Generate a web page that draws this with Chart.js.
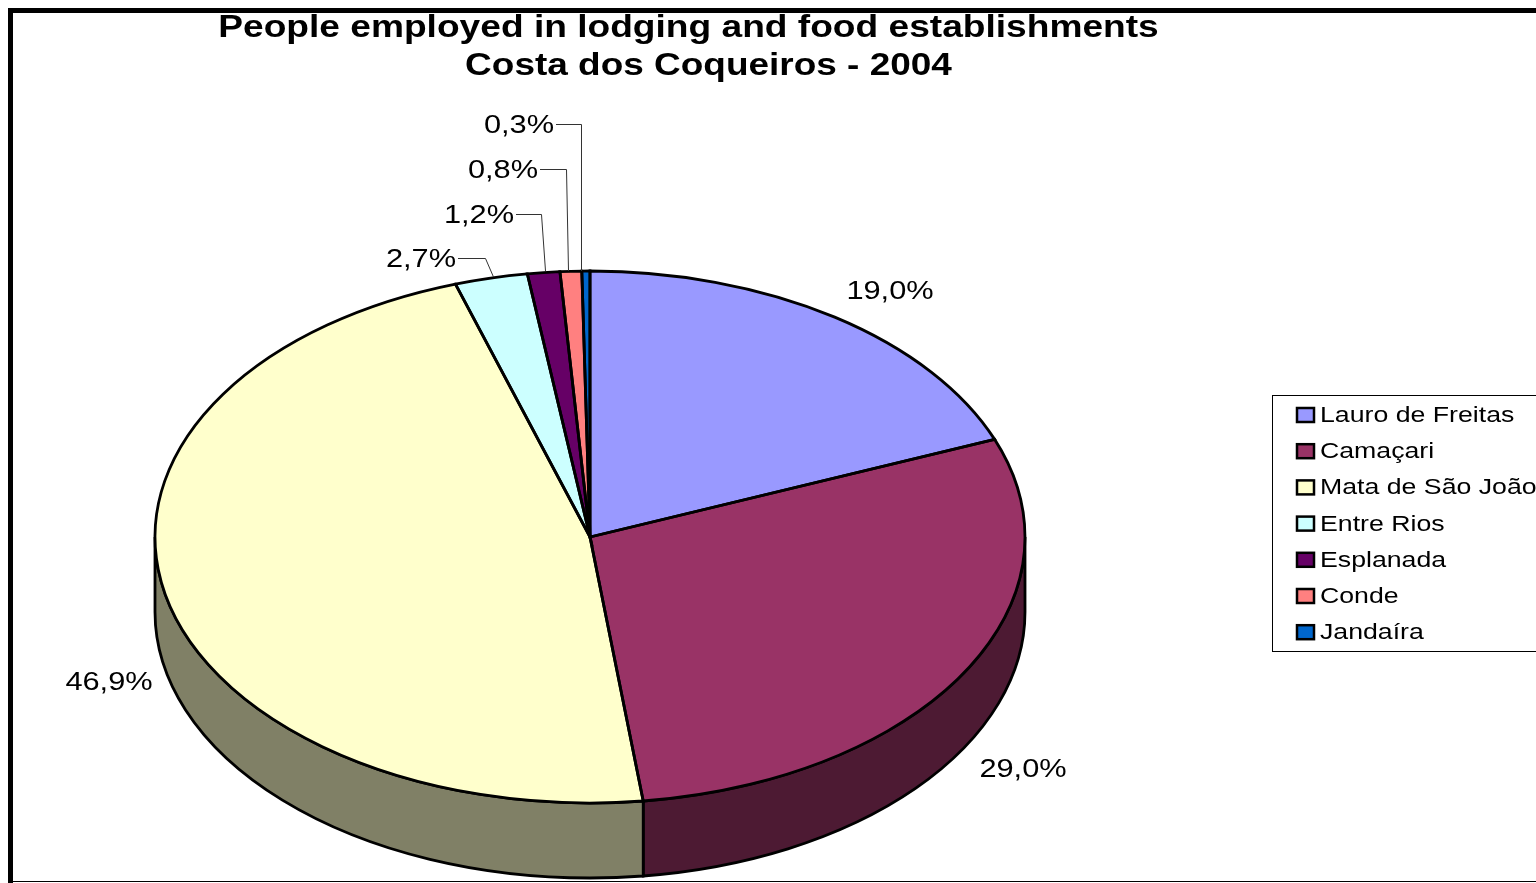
<!DOCTYPE html>
<html>
<head>
<meta charset="utf-8">
<title>People employed in lodging and food establishments</title>
<script src="https://cdn.jsdelivr.net/npm/chart.js@4"></script>
<style>
    html, body { margin: 0; padding: 0; background: #fff; overflow: hidden; }
    canvas { display: block; }
</style>
</head>
<body>
<canvas id="pie" width="1536" height="883"></canvas>
<script>
// Data
const titleLines = ['People employed in lodging and food establishments', 'Costa dos Coqueiros - 2004'];
const cities = ['Lauro de Freitas', 'Camaçari', 'Mata de São João', 'Entre Rios', 'Esplanada', 'Conde', 'Jandaíra'];
const shares = [19.0, 29.0, 46.9, 2.7, 1.2, 0.8, 0.3];
const sliceColors = ['#9999FF', '#993366', '#FFFFCC', '#CCFFFF', '#660066', '#FF8080', '#0066CC'];
const wallColors = ['#4D4D80', '#4D1A33', '#808066', '#668080', '#330033', '#804040', '#003366'];

// Layout of the flattened pie
const pieCenter = { x: 590, y: 537 };
const pieRy = 266;
const pieDepth = 75;
const fontName = '"Liberation Sans", Arial, sans-serif';

// Where the percent labels sit; lead = elbow x, end x, end y of the leader line
const labelSpots = [
    { x: 890, y: 292 },
    { x: 1023, y: 770 },
    { x: 109, y: 683 },
    { x: 421, y: 260, lead: [485, 493, 277] },
    { x: 479, y: 216, lead: [541, 545, 271] },
    { x: 503, y: 171, lead: [566, 568, 271] },
    { x: 519, y: 126, lead: [581, 581, 271] }
];

// Text in the picture is wider than the font, so stretch the scale on x
function wideText(ctx, text, x, y, font, stretch, align) {
    ctx.save();
    ctx.font = font;
    ctx.fillStyle = '#000';
    ctx.textBaseline = 'middle';
    ctx.textAlign = align || 'center';
    ctx.translate(x, y);
    ctx.scale(stretch, 1);
    ctx.fillText(text, 0, 0);
    ctx.restore();
}

// Walls of the disc, only the part of each slice facing the viewer
function drawWalls(ctx, arcs, rx) {
    arcs.forEach((arc, i) => {
        let a = Math.max(arc.startAngle, 0);
        let b = Math.min(arc.endAngle, Math.PI);
        if (b <= a) return;
        ctx.beginPath();
        ctx.ellipse(pieCenter.x, pieCenter.y, rx, pieRy, 0, a, b);
        ctx.ellipse(pieCenter.x, pieCenter.y + pieDepth, rx, pieRy, 0, b, a, true);
        ctx.closePath();
        ctx.fillStyle = wallColors[i];
        ctx.fill();
        ctx.lineWidth = 2.8;
        ctx.strokeStyle = '#000';
        ctx.stroke();
    });
}

// Outline again without the y scale, so the line keeps one thickness
function drawOutlines(ctx, arcs, rx) {
    ctx.lineWidth = 2.8;
    ctx.strokeStyle = '#000';
    arcs.forEach(arc => {
        ctx.beginPath();
        ctx.moveTo(pieCenter.x, pieCenter.y);
        ctx.ellipse(pieCenter.x, pieCenter.y, rx, pieRy, 0, arc.startAngle, arc.endAngle);
        ctx.closePath();
        ctx.stroke();
    });
}

function drawLabels(ctx) {
    labelSpots.forEach((spot, i) => {
        const text = shares[i].toFixed(1).replace('.', ',') + '%';
        wideText(ctx, text, spot.x, spot.y, '25px ' + fontName, 1.23);
        if (spot.lead) {
            const [elbow, endX, endY] = spot.lead;
            ctx.beginPath();
            ctx.moveTo(spot.x + 37, spot.y - 1.5);
            ctx.lineTo(elbow + 0.5, spot.y - 1.5);
            ctx.lineTo(endX + 0.5, endY);
            ctx.lineWidth = 1;
            ctx.strokeStyle = '#333';
            ctx.stroke();
        }
    });
}

function drawLegend(ctx) {
    ctx.lineWidth = 1;
    ctx.strokeStyle = '#000';
    ctx.strokeRect(1272.5, 395.5, 300, 256);
    cities.forEach((city, i) => {
        const y = 415 + i * 36.2;
        ctx.fillStyle = sliceColors[i];
        ctx.fillRect(1297, y - 7, 17, 14);
        ctx.lineWidth = 2.5;
        ctx.strokeRect(1297, y - 7, 17, 14);
        wideText(ctx, city, 1320, y + 1, '22px ' + fontName, 1.213, 'left');
    });
}

const flatPie = {
    id: 'flatPie',
    beforeDraw(chart) {
        const ctx = chart.ctx;
        ctx.fillStyle = '#000';
        ctx.fillRect(8, 8, 1528, 5);
        ctx.fillRect(8, 8, 5, 875);
        ctx.fillRect(8, 881, 1528, 1);
        wideText(ctx, titleLines[0], 688.5, 28, 'bold 32px ' + fontName, 1.16);
        wideText(ctx, titleLines[1], 708.5, 66, 'bold 32px ' + fontName, 1.155);
    },
    beforeDatasetsDraw(chart) {
        const ctx = chart.ctx;
        const arcs = chart.getDatasetMeta(0).data;
        const first = arcs[0];
        drawWalls(ctx, arcs, first.outerRadius);
        ctx.save();
        ctx.translate(pieCenter.x, pieCenter.y);
        ctx.scale(1, pieRy / first.outerRadius);
        ctx.translate(-first.x, -first.y);
    },
    afterDatasetsDraw(chart) {
        const ctx = chart.ctx;
        ctx.restore();
        const arcs = chart.getDatasetMeta(0).data;
        drawOutlines(ctx, arcs, arcs[0].outerRadius);
        drawLabels(ctx);
        drawLegend(ctx);
    }
};

new Chart(document.getElementById('pie'), {
    type: 'pie',
    data: {
        labels: cities,
        datasets: [{
            data: shares,
            backgroundColor: sliceColors,
            borderWidth: 0
        }]
    },
    options: {
        responsive: false,
        animation: false,
        layout: { padding: { left: 155, right: 511, top: 6, bottom: 7 } },
        plugins: {
            legend: { display: false },
            title: { display: false },
            tooltip: { enabled: false }
        }
    },
    plugins: [flatPie]
});
</script>
</body>
</html>
